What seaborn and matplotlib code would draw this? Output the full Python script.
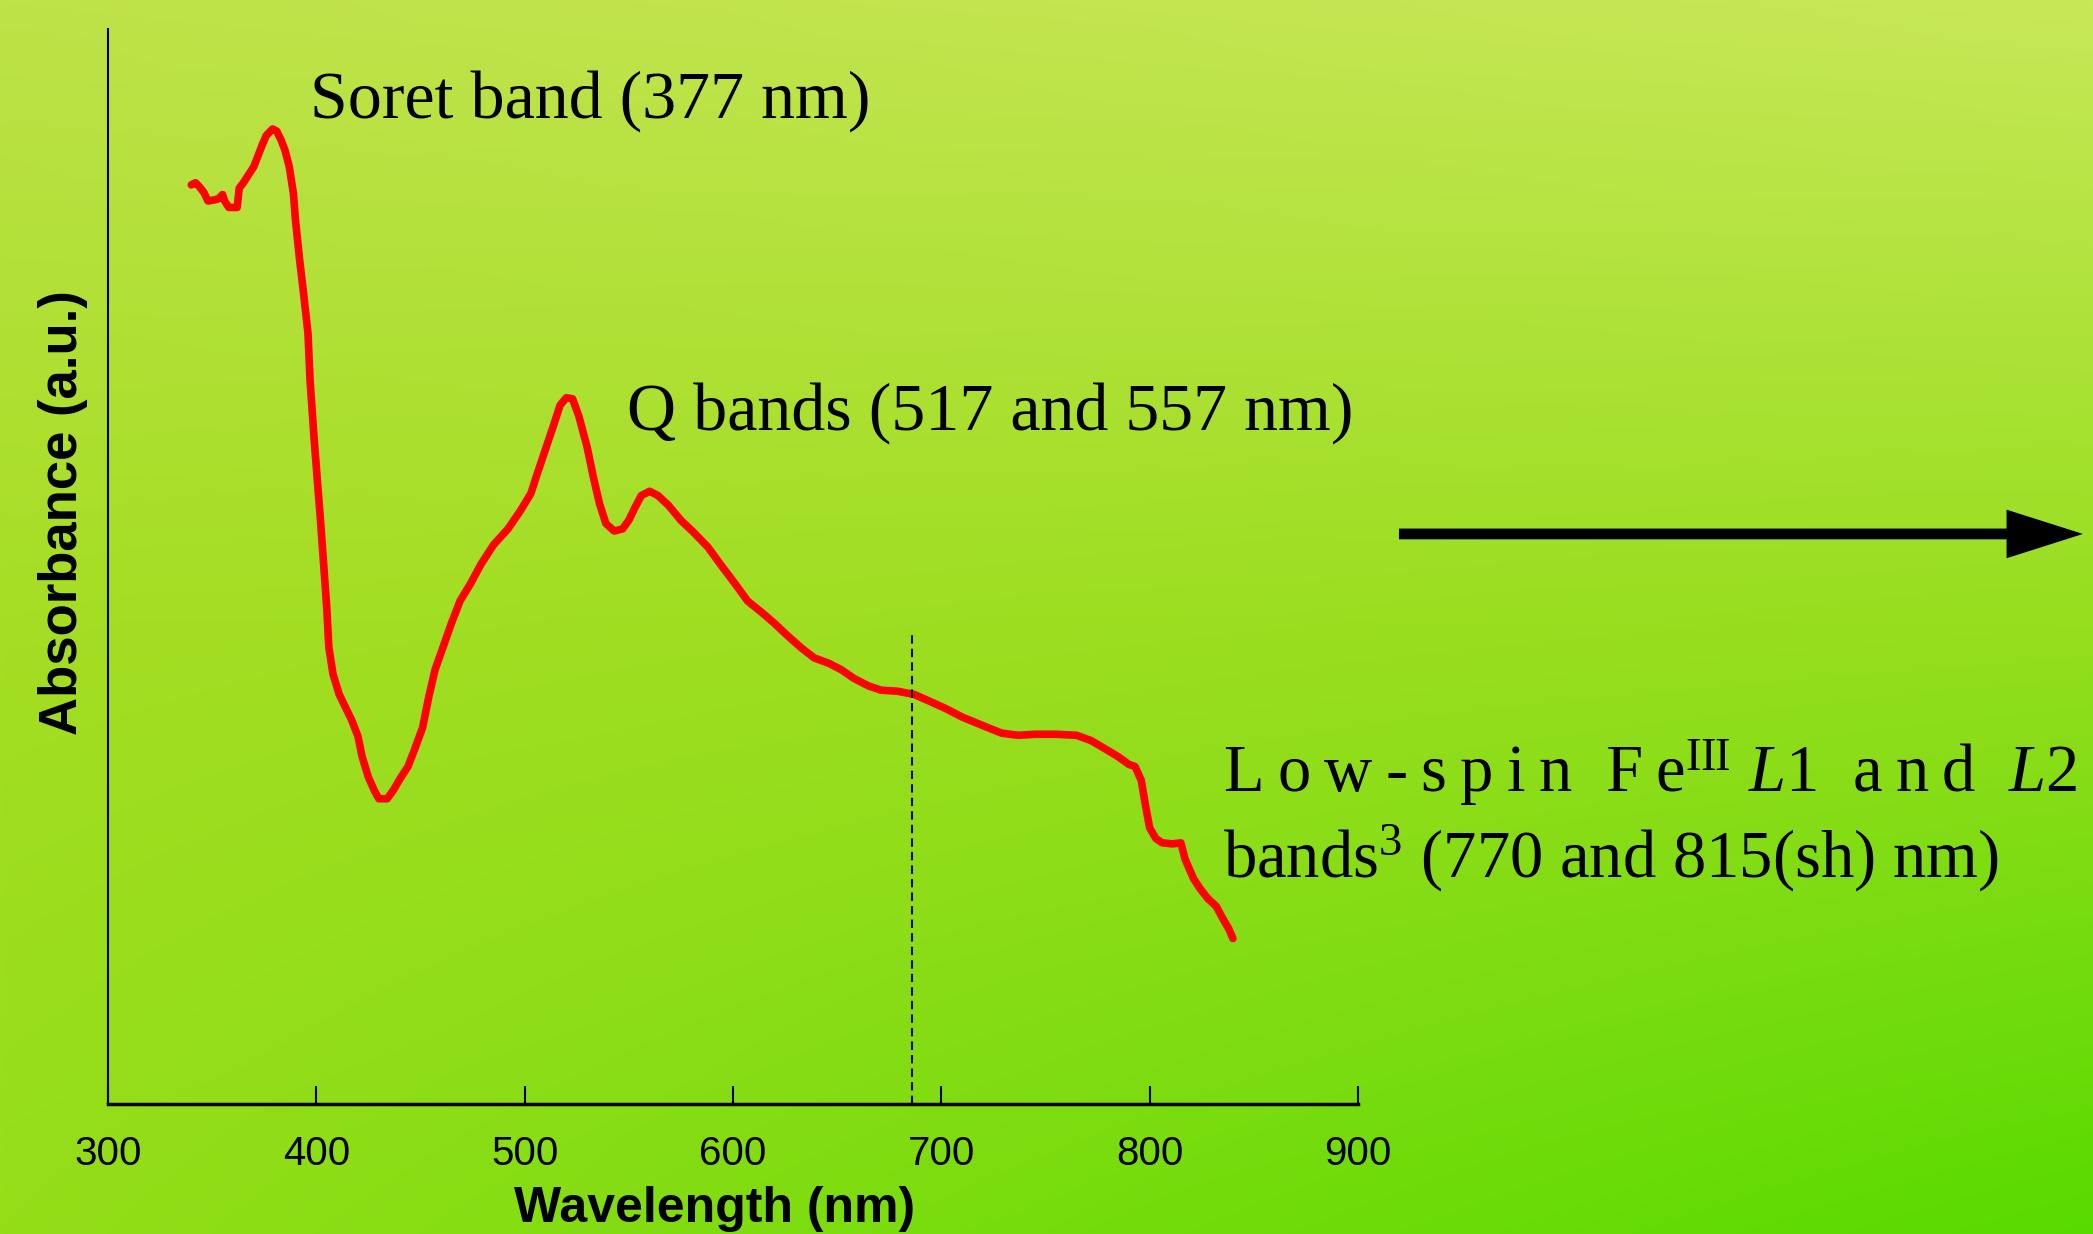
import seaborn as sns
import matplotlib.pyplot as plt
import numpy as np

# spectrum (absorbance in arbitrary units)
wavelength = [340, 342, 344, 346, 348, 351, 353, 355, 356, 358, 362, 363, 365, 367, 370, 372,
              374, 376, 379, 381, 383, 385, 387, 389, 390, 392, 394, 396, 397, 399, 402, 405,
              406, 408, 411, 414, 417, 420, 422, 425, 428, 430, 434, 437, 440, 444, 447, 451,
              454, 457, 461, 465, 469, 474, 479, 485, 492, 498, 503, 506, 510, 514, 517, 520,
              523, 526, 530, 533, 536, 539, 543, 547, 550, 553, 556, 560, 564, 569, 575, 581,
              588, 594, 601, 607, 614, 620, 626, 633, 639, 646, 652, 658, 665, 671, 679, 687,
              694, 702, 710, 720, 729, 737, 745, 755, 765, 772, 779, 785, 790, 793, 796, 798,
              800, 803, 806, 811, 815, 817, 821, 824, 828, 832, 835, 838, 840]
absorbance = [0.855, 0.857, 0.853, 0.848, 0.840, 0.841, 0.842, 0.846, 0.840, 0.834, 0.834, 0.852,
              0.857, 0.863, 0.872, 0.882, 0.892, 0.901, 0.907, 0.905, 0.897, 0.887, 0.872, 0.847,
              0.822, 0.785, 0.752, 0.717, 0.673, 0.617, 0.543, 0.462, 0.425, 0.400, 0.381, 0.369,
              0.357, 0.342, 0.323, 0.304, 0.291, 0.284, 0.284, 0.292, 0.302, 0.314, 0.329, 0.350,
              0.379, 0.404, 0.426, 0.448, 0.468, 0.484, 0.502, 0.520, 0.535, 0.552, 0.568, 0.586,
              0.609, 0.632, 0.650, 0.657, 0.656, 0.640, 0.611, 0.583, 0.558, 0.540, 0.533, 0.535,
              0.543, 0.555, 0.566, 0.570, 0.566, 0.557, 0.543, 0.532, 0.518, 0.502, 0.484, 0.468,
              0.457, 0.447, 0.436, 0.424, 0.415, 0.410, 0.404, 0.396, 0.389, 0.385, 0.384, 0.381,
              0.375, 0.368, 0.360, 0.352, 0.345, 0.343, 0.344, 0.344, 0.343, 0.338, 0.330, 0.323,
              0.316, 0.314, 0.301, 0.278, 0.257, 0.247, 0.243, 0.242, 0.243, 0.228, 0.210, 0.201,
              0.191, 0.184, 0.173, 0.163, 0.154]
xticks = [300, 400, 500, 600, 700, 800, 900]
marker_wl = 686
marker_top = 0.441

sns.set_style("ticks")
plt.rcParams['font.family'] = ['Liberation Sans', 'DejaVu Sans']
plt.rcParams['mathtext.fontset'] = 'custom'
plt.rcParams['mathtext.rm'] = 'Liberation Serif'
plt.rcParams['mathtext.it'] = 'Liberation Serif:italic'
plt.rcParams['text.color'] = 'black'
plt.rcParams['axes.labelcolor'] = 'black'
plt.rcParams['xtick.color'] = 'black'
plt.rcParams['axes.edgecolor'] = 'black'

fig = plt.figure(figsize=(20.93, 12.34), dpi=100)

# green gradient background: colour stops down the left and right edges
stops = [0.0, 0.5, 1.0]
left_edge = np.array([[190, 226, 72], [165, 222, 36], [148, 222, 24]]) / 255.0
right_edge = np.array([[200, 232, 88], [150, 222, 30], [88, 218, 0]]) / 255.0
tv = np.linspace(0, 1, 300)
sv = np.linspace(0, 1, 400)
lcol = np.stack([np.interp(tv, stops, left_edge[:, c]) for c in range(3)], axis=1)
rcol = np.stack([np.interp(tv, stops, right_edge[:, c]) for c in range(3)], axis=1)
grad = lcol[:, None, :] * (1 - sv[None, :, None]) + rcol[:, None, :] * sv[None, :, None]
bg = fig.add_axes([0, 0, 1, 1], zorder=-1)
bg.imshow(grad, extent=[0, 1, 0, 1], origin='upper', interpolation='bilinear', aspect='auto')
bg.axis('off')

ax = fig.add_axes([0.0516, 0.1053, 0.5972, 0.8712])
ax.set_facecolor('none')
sns.lineplot(x=wavelength, y=absorbance, ax=ax, color='#ff0000', lw=5.5)
ax.vlines(marker_wl, 0, marker_top, colors='black', linestyles=(0, (4, 2.5)), lw=1.5)

ax.set_xlim(300, 900)
ax.set_ylim(0, 1)
ax.set_xticks(xticks)
ax.set_yticks([])
ax.tick_params(axis='x', direction='in', length=13, width=1.5, pad=22, labelsize=29)
sns.despine(ax=ax)
ax.spines['left'].set_linewidth(1.5)
ax.spines['bottom'].set_linewidth(2.5)

ax.set_xlabel('Wavelength (nm)', fontsize=36, fontweight='bold', va='bottom')
ax.xaxis.set_label_coords(0.4856, -0.119)
ax.set_ylabel('Absorbance (a.u.)', fontsize=38, fontweight='bold', va='center')
ax.yaxis.set_label_coords(-0.036, 0.55)

serif = ['Liberation Serif', 'DejaVu Serif']
ax.text(397, 0.918, 'Soret band (377 nm)', fontsize=49, family=serif, va='baseline', clip_on=False)
ax.text(549, 0.627, 'Q bands (517 and 557 nm)', fontsize=49, family=serif, va='baseline', clip_on=False)
ts = '\u2009'
line1 = (ts.join('Low-spin') + '  ' + ts.join('Fe') + r'$^{\mathrm{III}}$ $\mathit{L1}$  '
         + ts.join('and') + r'  $\mathit{L2}$')
ax.text(835, 0.29, line1, fontsize=48, family=serif, va='baseline', clip_on=False)
ax.text(835, 0.211, r'bands$^{3}$ (770 and 815(sh) nm)', fontsize=48, family=serif,
        va='baseline', clip_on=False)

ax.annotate('', xy=(0.9952, 0.5673), xytext=(0.6684, 0.5673), xycoords='figure fraction',
            arrowprops=dict(arrowstyle='simple,head_length=1.1,head_width=0.7,tail_width=0.155',
                            mutation_scale=50, color='black', lw=0, shrinkA=0, shrinkB=0))

plt.savefig('out.png', dpi=100)
